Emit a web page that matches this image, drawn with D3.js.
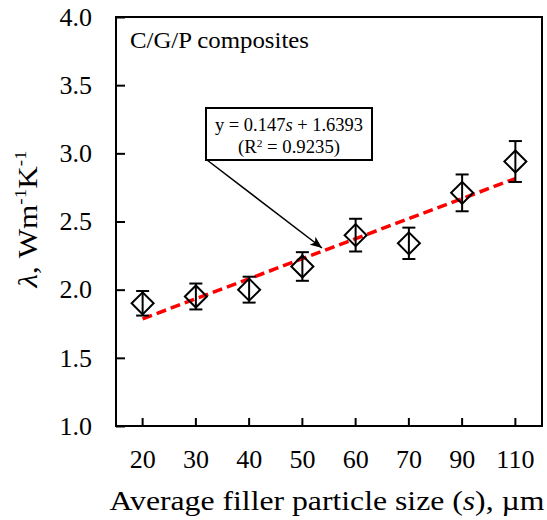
<!DOCTYPE html>
<html>
<head>
<meta charset="utf-8">
<script src="https://cdn.jsdelivr.net/npm/d3@7"></script>
<style>
  body { margin: 0; background: #fff; }
  text { font-family: "Liberation Serif", "Times New Roman", serif; fill: #000; }
</style>
</head>
<body>
<div class="chart"></div>
<script>
// particle size categories and measured conductivity
var sizes = ["20", "30", "40", "50", "60", "70", "90", "110"];
var lambdaVals = [1.90, 1.95, 2.00, 2.17, 2.40, 2.34, 2.71, 2.94];
var errVals = [0.09, 0.095, 0.095, 0.105, 0.12, 0.115, 0.135, 0.15];
var yTicks = [1.0, 1.5, 2.0, 2.5, 3.0, 3.5, 4.0];
// linear fit y = slope*s + intercept, s = category index (1..8)
var fitSlope = 0.147;
var fitIntercept = 1.6393;

var svgWidth = 547;
var svgHeight = 520;
var margin = { top: 17, right: 5, bottom: 94, left: 116 };
var width = svgWidth - margin.left - margin.right;
var height = svgHeight - margin.top - margin.bottom;

var svg = d3.select(".chart")
    .append("svg")
    .attr("width", svgWidth)
    .attr("height", svgHeight);

svg.append("defs").append("marker")
    .attr("id", "arrow")
    .attr("viewBox", "0 0 12 10")
    .attr("refX", 12)
    .attr("refY", 5)
    .attr("markerWidth", 12)
    .attr("markerHeight", 10)
    .attr("markerUnits", "userSpaceOnUse")
    .attr("orient", "auto")
    .append("path")
    .attr("d", "M0,0 L12,5 L0,10 L3,5 Z")
    .attr("fill", "#000");

var chart = svg.append("g")
    .attr("transform", "translate(" + margin.left + "," + margin.top + ")");

var x = d3.scaleBand().domain(sizes).range([0, width]).padding(0);
var y = d3.scaleLinear().domain([1, 4]).range([height, 0]);
var cx = function(s) { return x(s) + x.bandwidth() / 2; };

// axes with inward ticks
var bottomAxis = d3.axisBottom(x).tickSizeInner(-8).tickSizeOuter(0).tickPadding(24);
var leftAxis = d3.axisLeft(y).tickValues(yTicks).tickFormat(d3.format(".1f"))
    .tickSizeInner(-9).tickSizeOuter(0).tickPadding(24);

var gx = chart.append("g")
    .attr("transform", "translate(0," + height + ")")
    .call(bottomAxis);
gx.select(".domain").remove();
gx.selectAll("line").attr("stroke", "#000").attr("stroke-width", 2);
gx.selectAll("text")
    .attr("font-size", 26)
    .attr("font-family", "Liberation Serif");

var gy = chart.append("g").call(leftAxis);
gy.select(".domain").remove();
gy.selectAll("line").attr("stroke", "#000").attr("stroke-width", 2);
gy.selectAll("text")
    .attr("font-size", 26)
    .attr("font-family", "Liberation Serif");

// frame
chart.append("rect")
    .attr("x", 0).attr("y", 0)
    .attr("width", width).attr("height", height)
    .attr("fill", "none")
    .attr("stroke", "#000")
    .attr("stroke-width", 2);

// fitted trend line
var ends = [sizes[0], sizes[sizes.length - 1]];
chart.append("path")
    .datum(ends)
    .attr("d", d3.line()
        .x(function(s) { return cx(s); })
        .y(function(s) { return y(fitSlope * (sizes.indexOf(s) + 1) + fitIntercept); }))
    .attr("fill", "none")
    .attr("stroke", "#ff0000")
    .attr("stroke-width", 3.5)
    .attr("stroke-dasharray", "10,5");

// error bars
var bars = chart.selectAll(".err")
    .data(sizes)
    .enter()
    .append("g")
    .attr("class", "err")
    .attr("stroke", "#000")
    .attr("stroke-width", 2);
bars.append("line")
    .attr("x1", function(d) { return cx(d); })
    .attr("x2", function(d) { return cx(d); })
    .attr("y1", function(d, i) { return y(lambdaVals[i] + errVals[i]); })
    .attr("y2", function(d, i) { return y(lambdaVals[i] - errVals[i]); });
bars.append("line")
    .attr("x1", function(d) { return cx(d) - 6.5; })
    .attr("x2", function(d) { return cx(d) + 6.5; })
    .attr("y1", function(d, i) { return y(lambdaVals[i] + errVals[i]); })
    .attr("y2", function(d, i) { return y(lambdaVals[i] + errVals[i]); });
bars.append("line")
    .attr("x1", function(d) { return cx(d) - 6.5; })
    .attr("x2", function(d) { return cx(d) + 6.5; })
    .attr("y1", function(d, i) { return y(lambdaVals[i] - errVals[i]); })
    .attr("y2", function(d, i) { return y(lambdaVals[i] - errVals[i]); });

// diamond markers
var diamond = d3.symbol().type(d3.symbolSquare).size(242);
chart.selectAll(".pt")
    .data(sizes)
    .enter()
    .append("path")
    .attr("class", "pt")
    .attr("d", diamond)
    .attr("transform", function(d, i) {
        return "translate(" + cx(d) + "," + y(lambdaVals[i]) + ") rotate(45)";
    })
    .attr("fill", "none")
    .attr("stroke", "#000")
    .attr("stroke-width", 2);

// series label
chart.append("text")
    .attr("x", 14)
    .attr("y", 31)
    .attr("font-size", 23)
    .attr("textLength", 179)
    .attr("lengthAdjust", "spacingAndGlyphs")
    .text("C/G/P  composites");

// annotation box with arrow
var box = chart.append("g").attr("transform", "translate(90,91)");
box.append("rect")
    .attr("width", 166).attr("height", 52)
    .attr("fill", "#fff")
    .attr("stroke", "#000")
    .attr("stroke-width", 2);
var eq = box.append("text")
    .attr("x", 83).attr("y", 22.5)
    .attr("text-anchor", "middle")
    .attr("font-size", 18)
    .attr("textLength", 148)
    .attr("lengthAdjust", "spacingAndGlyphs");
eq.append("tspan").text("y = 0.147");
eq.append("tspan").attr("font-style", "italic").text("s");
eq.append("tspan").text(" + 1.6393");
var r2 = box.append("text")
    .attr("x", 83).attr("y", 45)
    .attr("text-anchor", "middle")
    .attr("font-size", 18)
    .attr("textLength", 102)
    .attr("lengthAdjust", "spacingAndGlyphs");
r2.append("tspan").text("(R");
r2.append("tspan").attr("font-size", 11).attr("dy", -6).text("2");
r2.append("tspan").attr("dy", 6).text(" = 0.9235)");

chart.append("line")
    .attr("x1", 91).attr("y1", 143)
    .attr("x2", 206).attr("y2", 231)
    .attr("stroke", "#000")
    .attr("stroke-width", 1.5)
    .attr("marker-end", "url(#arrow)");

// axis titles
var xt = svg.append("text")
    .attr("x", 327)
    .attr("y", 510)
    .attr("text-anchor", "middle")
    .attr("font-size", 28)
    .attr("textLength", 435)
    .attr("lengthAdjust", "spacingAndGlyphs");
xt.append("tspan").text("Average  filler particle size (");
xt.append("tspan").attr("font-style", "italic").text("s");
xt.append("tspan").text("), \u00b5m");

var yt = svg.append("text")
    .attr("transform", "translate(37,219) rotate(-90)")
    .attr("text-anchor", "middle")
    .attr("font-size", 28)
    .attr("textLength", 137)
    .attr("lengthAdjust", "spacingAndGlyphs");
yt.append("tspan").attr("font-style", "italic").text("\u03bb");
yt.append("tspan").text(", Wm");
yt.append("tspan").attr("font-size", 17).attr("dy", -11).text("-1");
yt.append("tspan").attr("dy", 11).text("K");
yt.append("tspan").attr("font-size", 17).attr("dy", -11).text("-1");
</script>
</body>
</html>
